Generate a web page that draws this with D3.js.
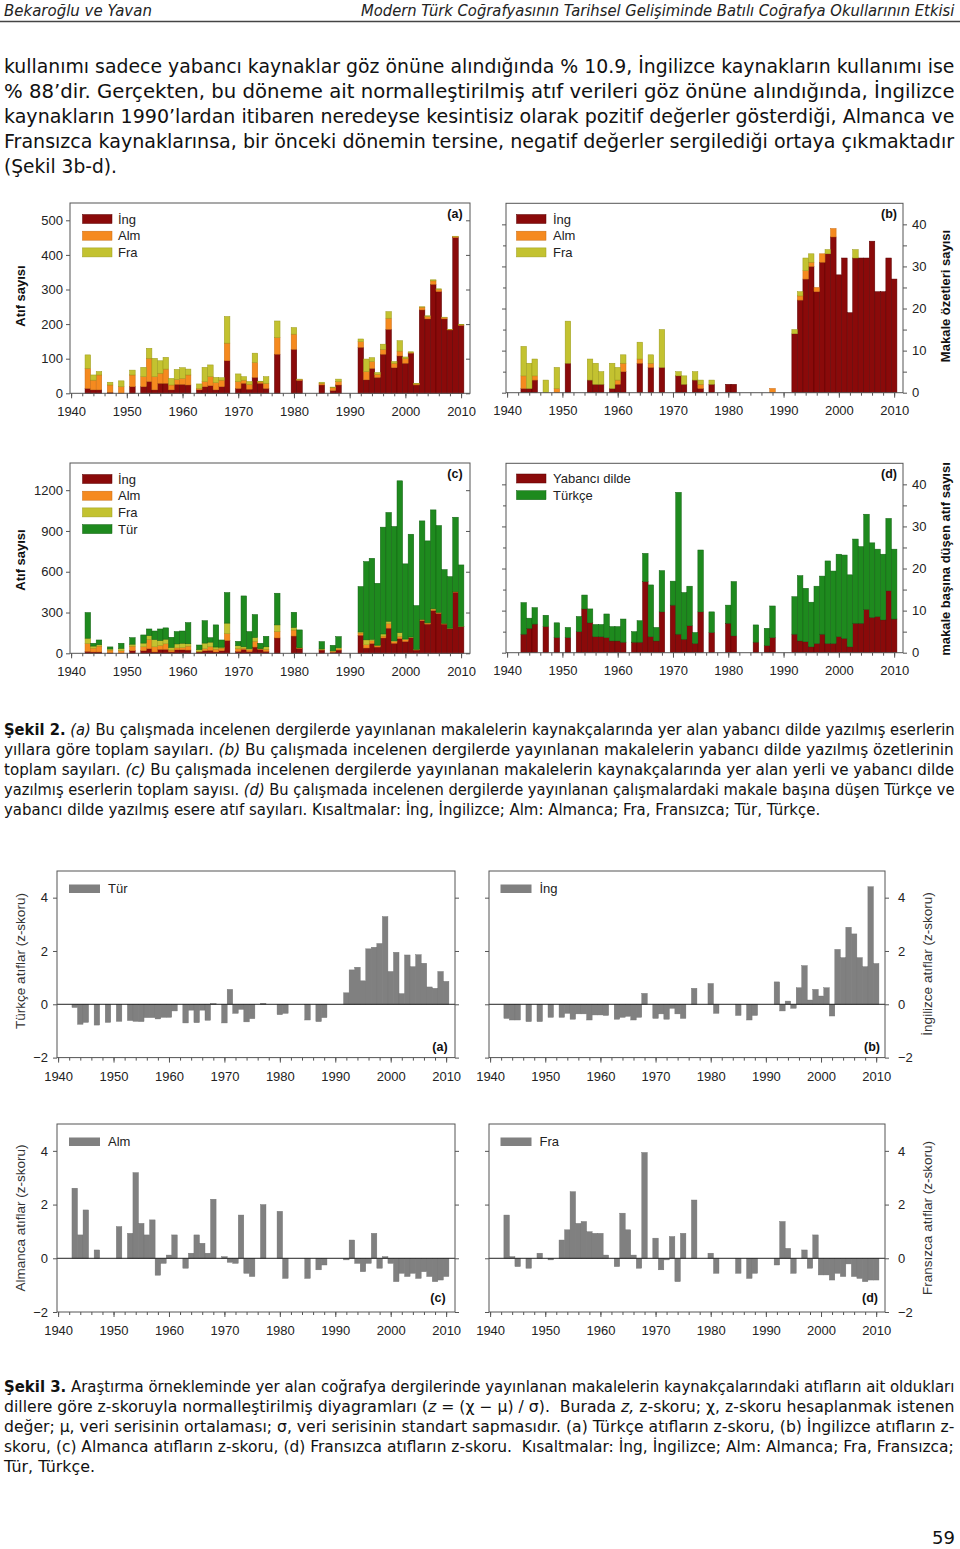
<!DOCTYPE html>
<html><head><meta charset="utf-8">
<script src="https://cdn.jsdelivr.net/npm/d3@7"></script>
<style>body{margin:0;background:#fff}svg{display:block}text{white-space:pre}</style>
</head><body>
<svg id="page" width="960" height="1549"></svg>
<script>
// ---------------- DATA ----------------
const yearsA = [1943,1944,1945,1947,1949,1951,1953,1954,1955,1956,1957,1958,1959,1960,1961,1963,1964,1965,1966,1967,1968,1970,1971,1972,1973,1974,1975,1977,1980,1981,1985,1987,1988,1992,1993,1994,1995,1996,1997,1998,1999,2000,2001,2002,2003,2004,2005,2006,2007,2008,2009,2010];
const ingA = [14,10,10,3,0,19,19,34,10,29,29,10,26,26,24,10,19,22,10,19,94,14,29,12,46,29,14,113,127,37,24,8,24,133,39,72,46,113,185,74,108,87,116,24,241,215,315,294,215,183,450,196];
const almA = [58,28,43,21,19,34,29,67,38,29,41,14,14,17,29,4,15,26,21,19,51,20,9,14,43,4,15,48,44,3,5,8,10,16,24,20,9,14,32,13,14,14,2,3,8,7,10,6,4,1,3,2];
const fraA = [39,15,10,8,17,14,27,29,53,36,34,19,29,31,17,13,41,34,15,7,77,22,10,8,27,2,19,48,19,1,3,2,7,8,36,11,5,15,19,5,30,4,2,2,1,2,3,2,1,1,1,1];
const turC = [189,21,35,15,38,48,60,49,63,85,83,75,91,90,156,34,165,33,163,53,225,32,374,126,169,39,77,233,112,131,54,41,82,334,576,596,455,786,800,841,1117,553,756,322,724,603,727,638,396,379,547,451];

const yearsB = [1943,1944,1945,1947,1949,1951,1955,1956,1957,1959,1960,1961,1964,1966,1968,1971,1972,1974,1975,1977,1980,1981,1988,1992,1993,1994,1995,1996,1997,1998,1999,2000,2001,2002,2003,2004,2005,2006,2007,2008,2009,2010];
const ingB = [1,1,3,0,0,7,3,2,2,1,2,5,7,6,6,4,2,3,1,2,2,2,0,14,22,27,30,24,31,33,37,28,32,19,32,32,32,36,24,24,32,27];
const almB = [3,0,1,0,1,0,0,0,0,0,1,2,1,1,0,0,0,0,1,0,0,0,1,0,1,2,1,1,2,0,2,0,0,0,0,0,0,0,0,0,0,0];
const fraB = [7,6,4,3,5,10,5,5,3,6,3,2,4,2,9,1,2,2,1,1,0,0,0,1,1,3,2,0,0,1,0,0,0,0,2,0,0,0,0,0,0,0];

const yabD = [4.4,5.8,6.8,6.2,3.6,3.6,5.0,10.4,7.1,3.8,3.8,3.6,2.8,2.8,2.5,2.5,2.5,16.9,3.8,2.8,9.7,11.3,4.4,3.2,6.4,2.2,9.7,4.8,7.0,4.0,2.5,1.7,3.6,4.4,2.8,2.6,1.4,2.2,4.4,2.2,2.2,3.8,3.4,1.4,7.0,7.0,10.3,8.4,8.6,7.8,14.7,8.0];
const turD = [7.5,2.4,3.9,2.7,3.5,2.4,3.6,3.3,3.3,2.9,2.9,5.6,3.4,3.4,5.5,2.5,5.1,6.7,12.3,3.2,9.8,5.7,33.7,11.1,9.4,2.6,14.7,4.9,4.3,12.9,4.1,4.1,7.5,8.9,15.5,12.7,10.6,13.6,13.8,19.6,17.2,19.6,19.8,17.1,20.0,18.2,22.6,17.7,16.0,15.6,17.2,16.6];

const zTur = [-0.12,-0.75,-0.68,-0.78,-0.68,-0.64,-0.61,-0.64,-0.65,-0.5,-0.5,-0.55,-0.49,-0.49,-0.25,-0.7,-0.22,-0.69,-0.22,-0.6,0.03,-0.7,0.56,-0.34,-0.19,-0.66,-0.54,0.04,-0.39,-0.34,-0.59,-0.65,-0.5,0.43,1.29,1.39,0.88,2.08,2.14,2.28,3.29,1.23,1.95,0.4,1.85,1.41,1.86,1.54,0.65,0.6,1.23,0.86];
const zIng = [-0.53,-0.59,-0.59,-0.65,-0.65,-0.49,-0.49,-0.34,-0.56,-0.36,-0.36,-0.59,-0.4,-0.4,-0.42,-0.56,-0.49,-0.45,-0.59,-0.49,0.41,-0.53,-0.36,-0.56,-0.15,-0.36,-0.53,0.6,0.78,-0.34,-0.42,-0.59,-0.42,0.84,-0.25,0.12,-0.15,0.62,1.45,0.16,0.56,0.31,0.62,-0.44,2.06,1.75,2.89,2.64,1.75,1.41,4.41,1.53];
const zAlm = [2.61,0.87,1.8,0.31,null,1.18,0.93,3.19,1.3,0.87,1.43,-0.63,-0.19,0.12,0.87,-0.37,0.19,0.87,0.56,0.19,2.2,0.06,-0.15,-0.19,1.61,-0.56,-0.68,2.0,1.75,-0.75,-0.75,-0.43,-0.25,-0.06,0.68,-0.19,-0.5,-0.19,0.93,-0.37,0.06,-0.19,-0.87,-0.56,-0.68,-0.56,-0.75,-0.5,-0.68,-0.87,-0.81,-0.68];
const zFra = [1.61,0.06,-0.31,-0.37,0.19,-0.06,0.68,1.06,2.48,1.3,1.37,0.99,0.93,0.93,0.12,-0.31,1.68,1.06,0.12,-0.37,3.94,0.75,-0.43,-0.06,0.81,-0.87,0.93,2.17,0.19,-0.56,-0.56,-0.75,-0.56,-0.25,1.37,0.37,-0.56,null,0.31,-0.37,0.87,-0.62,-0.62,-0.81,-0.56,-0.68,-0.21,-0.68,-0.75,-0.87,-0.81,-0.81];

const yTicksA = [0,100,200,300,400,500];
const yTicksB = [0,10,20,30,40];
const yTicksC = [0,300,600,900,1200];
const zTicks = [-2,0,2,4];
const xTickYears = [1940,1950,1960,1970,1980,1990,2000,2010];

const legendA = ["İng","Alm","Fra"];
const legendC = ["İng","Alm","Fra","Tür"];
const legendD = ["Yabancı dilde","Türkçe"];

const headerLeft = "Bekaroğlu ve Yavan";
const headerRight = "Modern Türk Coğrafyasının Tarihsel Gelişiminde Batılı Coğrafya Okullarının Etkisi";
const bodyLines = [
 [{t:"kullanımı sadece yabancı kaynaklar göz önüne alındığında % 10.9, İngilizce kaynakların kullanımı ise"}],
 [{t:"% 88’dir. Gerçekten, bu döneme ait normalleştirilmiş atıf verileri göz önüne alındığında, İngilizce"}],
 [{t:"kaynakların 1990’lardan itibaren neredeyse kesintisiz olarak pozitif değerler gösterdiği, Almanca ve"}],
 [{t:"Fransızca kaynaklarınsa, bir önceki dönemin tersine, negatif değerler sergilediği ortaya çıkmaktadır"}],
 [{t:"(Şekil 3b-d)."}]
];
const cap2Lines = [
 [{t:"Şekil 2.",b:1},{t:" "},{t:"(a)",i:1},{t:" Bu çalışmada incelenen dergilerde yayınlanan makalelerin kaynakçalarında yer alan yabancı dilde yazılmış eserlerin"}],
 [{t:"yıllara göre toplam sayıları. "},{t:"(b)",i:1},{t:" Bu çalışmada incelenen dergilerde yayınlanan makalelerin yabancı dilde yazılmış özetlerinin"}],
 [{t:"toplam sayıları. "},{t:"(c)",i:1},{t:" Bu çalışmada incelenen dergilerde yayınlanan makalelerin kaynakçalarında yer alan yerli ve yabancı dilde"}],
 [{t:"yazılmış eserlerin toplam sayısı. "},{t:"(d)",i:1},{t:" Bu çalışmada incelenen dergilerde yayınlanan çalışmalardaki makale başına düşen Türkçe ve"}],
 [{t:"yabancı dilde yazılmış esere atıf sayıları. Kısaltmalar: İng, İngilizce; Alm: Almanca; Fra, Fransızca; Tür, Türkçe."}]
];
const cap3Lines = [
 [{t:"Şekil 3.",b:1},{t:" Araştırma örnekleminde yer alan coğrafya dergilerinde yayınlanan makalelerin kaynakçalarındaki atıfların ait oldukları"}],
 [{t:"dillere göre z-skoruyla normalleştirilmiş diyagramları ("},{t:"z",i:1},{t:" = (χ − μ) / σ).  Burada "},{t:"z,",i:1},{t:" z-skoru; χ, z-skoru hesaplanmak istenen"}],
 [{t:"değer; μ, veri serisinin ortalaması; σ, veri serisinin standart sapmasıdır. (a) Türkçe atıfların z-skoru, (b) İngilizce atıfların z-"}],
 [{t:"skoru, (c) Almanca atıfların z-skoru, (d) Fransızca atıfların z-skoru.  Kısaltmalar: İng, İngilizce; Alm: Almanca; Fra, Fransızca;"}],
 [{t:"Tür, Türkçe."}]
];
const pageNumber = "59";

// ---------------- STYLE / LAYOUT ----------------
const TXT = "'DejaVu Sans', Verdana, sans-serif";
const CHF = "'Liberation Sans', Arial, sans-serif";
const COL = {ing:"#8a0a0a", alm:"#f58a1f", fra:"#c3c230", tur:"#1e8a1e", gray:"#808080"};
const EDGE = {ing:"#5a0000", alm:"#c86a10", fra:"#9a9a1a", tur:"#126012", gray:"#666"};
const FRAME = "#555";
const X_DOMAIN = [1939.8, 2011.6];

const svg = d3.select('#page');
svg.append('rect').attr('width',960).attr('height',1549).attr('fill','#fff');

// ---------- text helpers ----------
function fitLine(x, y, segs, fs, targetW, fam, extra) {
  const t = svg.append('text').attr('font-family', fam).attr('font-size', fs).attr('fill', '#111');
  if (extra) extra(t);
  segs.forEach(s => {
    const ts = t.append('tspan').text(s.t);
    if (s.b) ts.attr('font-weight','bold');
    if (s.i) ts.attr('font-style','italic');
  });
  const w = t.node().getComputedTextLength();
  t.attr('transform', `translate(${x},${y}) scale(${targetW / w},1)`);
  return t;
}

// header
fitLine(4, 16, [{t:headerLeft}], 15, 148, TXT, t=>t.attr('font-style','italic').attr('fill','#222'));
fitLine(361, 16, [{t:headerRight}], 15, 594, TXT, t=>t.attr('font-style','italic').attr('fill','#222'));
svg.append('line').attr('x1',0).attr('x2',960).attr('y1',21.5).attr('y2',21.5).attr('stroke','#444').attr('stroke-width',1.3);

// body
const bodyW = [951,951,951,951,113];
bodyLines.forEach((l,i)=> fitLine(4, 73 + i*25, l, 19, bodyW[i], TXT));
const cap2W = [951,951,951,951,817];
cap2Lines.forEach((l,i)=> fitLine(4, 734.5 + i*20.2, l, 15.5, cap2W[i], TXT));
const cap3W = [951,951,951,951,91];
cap3Lines.forEach((l,i)=> fitLine(4, 1391.5 + i*20.2, l, 15.5, cap3W[i], TXT));
svg.append('text').attr('x',955).attr('y',1544).attr('text-anchor','end').attr('font-family',TXT).attr('font-size',18).attr('fill','#111').text(pageNumber);

// ---------- chart helpers ----------
function styleAxis(sel, fs) {
  sel.select('.domain').remove();
  sel.selectAll('.tick line').attr('stroke', FRAME);
  sel.selectAll('.tick text').attr('font-family', CHF).attr('font-size', fs).attr('fill', '#222');
}

function makePanel(c) {
  const g = svg.append('g');
  const x = d3.scaleLinear().domain(X_DOMAIN).range([c.l, c.r]);
  const y = d3.scaleLinear().domain(c.yDomain).range([c.b, c.t]);
  return {g, x, y, c};
}

function frameAndAxes(P, o) {
  const {g, x, y, c} = P;
  const minor = d3.range(1940, 2012, 2);
  const gxm = g.append('g').attr('transform', `translate(0,${y(c.yDomain[0])})`)
    .call(d3.axisBottom(x).tickValues(minor).tickSize(3).tickFormat(''));
  styleAxis(gxm, 13);
  const gx = g.append('g').attr('transform', `translate(0,${y(c.yDomain[0])})`)
    .call(d3.axisBottom(x).tickValues(xTickYears).tickSize(5).tickPadding(o.xPad).tickFormat(d3.format('d')));
  styleAxis(gx, o.fs);
  const lab = o.side === 'left' ? d3.axisLeft(y) : d3.axisRight(y);
  const gy = g.append('g').attr('transform', `translate(${o.side==='left'?c.l:c.r},0)`)
    .call(lab.tickValues(o.yTicks).tickSize(4).tickPadding(o.yPad).tickFormat(d3.format('d')));
  styleAxis(gy, o.fs);
  if (o.yMinor) {
    const gl = g.append('g').attr('transform', `translate(${c.l},0)`).call(d3.axisLeft(y).tickValues(o.yMinor).tickSize(o.side==='left'?4:3).tickFormat(''));
    styleAxis(gl, 10);
    const gr = g.append('g').attr('transform', `translate(${c.r},0)`).call(d3.axisRight(y).tickValues(o.yMinor).tickSize(o.side==='right'?4:3).tickFormat(''));
    styleAxis(gr, 10);
  }
  if (o.oppTicks) {
    const opp = o.side === 'left' ? d3.axisRight(y) : d3.axisLeft(y);
    const go = g.append('g').attr('transform', `translate(${o.side==='left'?c.r:c.l},0)`)
      .call(opp.tickValues(o.oppTicks).tickSize(o.oppSize).tickFormat(''));
    styleAxis(go, 10);
  }
  g.append('rect').attr('x', c.l).attr('y', c.t).attr('width', c.r - c.l).attr('height', y(c.yDomain[0]) - c.t)
    .attr('fill','none').attr('stroke', FRAME).attr('stroke-width', 1);
}

function stackBars(P, years, keys, arrays) {
  const {g, x, y} = P;
  const rows = years.map((yr,i)=>{ const o={year:yr}; keys.forEach((k,j)=>o[k]=arrays[j][i]); return o; });
  const series = d3.stack().keys(keys)(rows);
  series.forEach(s => {
    g.append('g').selectAll('rect').data(s.filter(d => d[1] > d[0])).enter().append('rect')
      .attr('x', d => x(d.data.year - 0.5)).attr('width', d => x(d.data.year + 0.5) - x(d.data.year - 0.5))
      .attr('y', d => y(d[1])).attr('height', d => y(d[0]) - y(d[1]))
      .attr('fill', COL[s.key]).attr('stroke', EDGE[s.key]).attr('stroke-width', 0.5);
  });
}

function zBars(P, years, vals) {
  const {g, x, y} = P;
  const data = years.map((yr,i)=>({year:yr, v:vals[i]})).filter(d => d.v !== null);
  g.append('g').selectAll('rect').data(data).enter().append('rect')
    .attr('x', d => x(d.year - 0.5)).attr('width', d => x(d.year + 0.5) - x(d.year - 0.5))
    .attr('y', d => y(Math.max(0, d.v))).attr('height', d => Math.abs(y(d.v) - y(0)))
    .attr('fill', COL.gray).attr('stroke', '#707070').attr('stroke-width', 0.4);
}

function legend(g, x0, x1, tx, y0, dy, items, keys, fs) {
  items.forEach((it, i) => {
    const cy = y0 + i * dy;
    g.append('rect').attr('x', x0).attr('y', cy - 4.5).attr('width', x1 - x0).attr('height', 9)
      .attr('fill', COL[keys[i]]).attr('stroke', EDGE[keys[i]]).attr('stroke-width', 0.5);
    g.append('text').attr('x', tx).attr('y', cy).attr('dy','0.35em').attr('font-family', CHF).attr('font-size', fs).attr('fill','#222').text(it);
  });
}

function panelLabel(g, x, y, s) {
  g.append('text').attr('x', x).attr('y', y).attr('dy','0.35em').attr('text-anchor','middle')
    .attr('font-family', CHF).attr('font-size', 12.5).attr('font-weight','bold').attr('fill','#111').text(s);
}

function vTitle(x, y, s, bold, fs) {
  svg.append('text').attr('transform', `translate(${x},${y}) rotate(-90)`).attr('text-anchor','middle').attr('dy','0.35em')
    .attr('font-family', CHF).attr('font-size', fs).attr('font-weight', bold ? 'bold' : 'normal').attr('fill', bold ? '#111' : '#333').text(s);
}

// ---------------- FIGURE 2 ----------------
const Pa = makePanel({l:70, r:470, t:203, b:393.3, yDomain:[0,550]});
stackBars(Pa, yearsA, ['ing','alm','fra'], [ingA, almA, fraA]);
frameAndAxes(Pa, {side:'left', yTicks:yTicksA, yPad:3, xPad:8, fs:13, oppTicks:yTicksA, oppSize:-4});
legend(Pa.g, 82.5, 112, 118, 219, 16.7, legendA, ['ing','alm','fra'], 13);
panelLabel(Pa.g, 455, 214, '(a)');
vTitle(20, 296, 'Atıf sayısı', true, 13);

const Pb = makePanel({l:506, r:903, t:203.3, b:392.7, yDomain:[0,45]});
stackBars(Pb, yearsB, ['ing','alm','fra'], [ingB, almB, fraB]);
frameAndAxes(Pb, {side:'right', yTicks:yTicksB, yPad:5, xPad:8, fs:13, yMinor:[5,15,25,35], oppTicks:yTicksB, oppSize:4});
legend(Pb.g, 516.5, 546, 553, 219, 16.7, legendA, ['ing','alm','fra'], 13);
panelLabel(Pb.g, 889, 214, '(b)');
vTitle(945, 296, 'Makale özetleri sayısı', true, 13);

const Pc = makePanel({l:70, r:470, t:463, b:653.3, yDomain:[0,1400]});
stackBars(Pc, yearsA, ['ing','alm','fra','tur'], [ingA, almA, fraA, turC]);
frameAndAxes(Pc, {side:'left', yTicks:yTicksC, yPad:3, xPad:8, fs:13, oppTicks:yTicksC, oppSize:-4});
legend(Pc.g, 82.5, 112, 118, 479, 16.7, legendC, ['ing','alm','fra','tur'], 13);
panelLabel(Pc.g, 455, 474, '(c)');
vTitle(20, 560, 'Atıf sayısı', true, 13);

const Pd = makePanel({l:506, r:903, t:463.3, b:652.7, yDomain:[0,45]});
stackBars(Pd, yearsA, ['ing','tur'], [yabD, turD]);
frameAndAxes(Pd, {side:'right', yTicks:yTicksB, yPad:5, xPad:8, fs:13, yMinor:[5,15,25,35], oppTicks:yTicksB, oppSize:4});
legend(Pd.g, 516.5, 546, 553, 478.5, 16.7, legendD, ['ing','tur'], 13);
panelLabel(Pd.g, 889, 474, '(d)');
vTitle(945, 559, 'makale başına düşen atıf sayısı', true, 13);

// ---------------- FIGURE 3 ----------------
function zPanel(c, vals, side, leg, lab, title) {
  const P = makePanel(c);
  zBars(P, yearsA, vals);
  P.g.append('line').attr('x1', c.l).attr('x2', c.r).attr('y1', P.y(0)).attr('y2', P.y(0)).attr('stroke','#222').attr('stroke-width',1);
  frameAndAxes(P, {side, yTicks:zTicks, yPad: side==='left'?5:9, xPad:9, fs:13, oppTicks:zTicks, oppSize:4});
  const sx0 = side==='left' ? c.l + 12 : c.l + 11.5;
  P.g.append('rect').attr('x', sx0).attr('y', c.t + 13.5).attr('width', 31).attr('height', 8.5).attr('fill', COL.gray);
  P.g.append('text').attr('x', sx0 + 39).attr('y', c.t + 17.8).attr('dy','0.35em').attr('font-family', CHF).attr('font-size', 13).attr('fill','#222').text(leg);
  panelLabel(P.g, lab[0], lab[1], lab[2]);
  vTitle(title[0], title[1], title[2], false, 13.5);
}
zPanel({l:57, r:455, t:871, b:1057.6, yDomain:[-2,5]}, zTur, 'left', 'Tür', [440,1047,'(a)'], [20,961,'Türkçe atıflar (z-skoru)']);
zPanel({l:489, r:885, t:871, b:1057.6, yDomain:[-2,5]}, zIng, 'right', 'İng', [872,1047,'(b)'], [927,964,'İngilizce atıflar (z-skoru)']);
zPanel({l:57, r:455, t:1124, b:1312, yDomain:[-2,5]}, zAlm, 'left', 'Alm', [438,1298,'(c)'], [20,1218,'Almanca atıflar (z-skoru)']);
zPanel({l:489, r:885, t:1124, b:1312, yDomain:[-2,5]}, zFra, 'right', 'Fra', [870,1298,'(d)'], [927,1218,'Fransızca atıflar (z-skoru)']);
</script>
</body></html>
